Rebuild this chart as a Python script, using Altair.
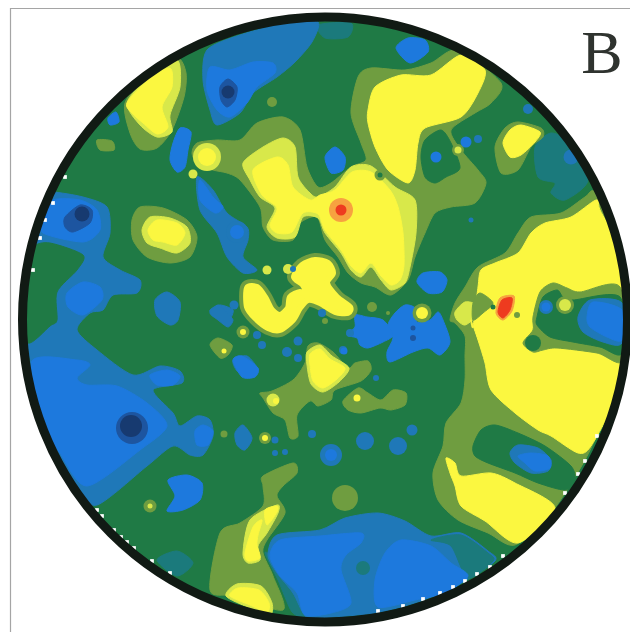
import altair as alt
import pandas as pd

alt.data_transformers.disable_max_rows()

COLORS = {
    "green": "#1f7a45", "olive": "#6f9d40", "pale": "#d8e84a", "yellow": "#fbf740",
    "blue": "#1d79dd", "steel": "#1f78b8", "teal": "#1b7a7c", "dark": "#1d55a0",
    "navy": "#173a70", "red": "#ee3b1f", "orange": "#f7a240",
}

# contour outlines, one list per contour level and painting pass
TEAL_BASE = [
    [(318,25),(351,23),(348,37),(325,38)],
    [(535,147),(551,133),(568,143),(588,180),(565,200),(551,193),(555,183),(538,177)],
    [(157,560),(177,551),(193,563),(177,576)],
    [(265,553),(275,560),(300,600),(305,616),(292,612),(278,580)],
]
STEEL_BASE = [
    [(207,50),(240,35),(290,22),(318,22),(312,42),(295,62),(277,77),(253,93),(240,113),(217,125),(210,110),(203,80)],
    [(53,192),(83,197),(107,207),(110,233),(103,257),(120,270),(140,280),(137,293),(113,295),(103,310),(90,313),(77,330),(97,350),(133,375),(160,366),(180,371),(182,383),(153,390),(173,413),(180,426),(197,416),(210,420),(213,436),(203,455),(190,455),(173,446),(147,466),(97,505),(77,486),(43,430),(28,346),(20,300),(30,220),(45,195)],
    [(197,177),(213,190),(227,213),(247,227),(248,240),(243,257),(257,270),(243,273),(227,257),(217,233),(200,210)],
    [(233,360),(247,356),(258,370),(248,376),(237,371)],
    [(235,433),(243,425),(252,438),(245,450),(237,445)],
    [(155,300),(167,292),(180,302),(178,320),(170,325),(157,316)],
    [(210,310),(220,305),(233,310),(230,320),(228,323),(213,316)],
    [(210,313),(218,305),(227,313),(233,320),(228,327),(218,320)],
    [(277,535),(320,530),(345,518),(378,513),(405,521),(431,536),(461,533),(488,551),(495,561),(461,583),(421,601),(375,613),(318,618),(305,616),(293,593),(277,573),(268,555)],
]
TEAL_SECOND = [
    [(431,540),(461,535),(488,553),(493,561),(468,578),(451,546)],
]
BLUE_BASE = [
    [(210,67),(230,70),(253,62),(273,63),(275,73),(257,87),(247,103),(230,117),(217,110),(207,90)],
    [(108,118),(116,112),(119,122),(110,125)],
    [(180,128),(191,132),(188,150),(185,167),(177,172),(170,160),(173,143)],
    [(53,200),(80,200),(97,210),(100,230),(83,242),(43,233),(42,217)],
    [(67,293),(83,282),(100,287),(102,300),(83,315),(68,307)],
    [(32,361),(77,360),(90,365),(77,378),(87,385),(117,386),(147,403),(167,426),(140,450),(87,486),(60,453),(43,423)],
    [(150,375),(167,370),(180,376),(173,385),(157,385)],
    [(195,431),(203,425),(213,431),(208,445),(197,445)],
    [(168,480),(187,475),(202,483),(200,500),(183,510),(167,511),(175,496)],
    [(200,180),(213,197),(223,207),(215,213),(200,200)],
    [(233,360),(242,356),(258,368),(255,377),(242,377)],
    [(417,282),(423,273),(440,272),(447,280),(442,292),(428,293)],
    [(395,313),(405,305),(415,308),(417,322),(430,320),(438,312),(443,320),(450,342),(440,355),(428,348),(413,352),(390,362),(387,352),(393,338),(388,325)],
    [(355,315),(367,317),(383,320),(393,335),(383,342),(368,348),(360,345),(357,338),(347,335),(355,327)],
    [(396,48),(408,38),(425,40),(428,52),(410,63)],
    [(325,157),(335,147),(345,157),(343,170),(331,173)],
    [(270,556),(280,540),(320,536),(361,533),(361,543),(346,555),(341,570),(351,603),(331,613),(305,615),(297,593),(280,576)],
    [(385,553),(401,540),(431,546),(451,563),(468,576),(445,593),(415,600),(378,607),(375,580)],
]
GREEN_WEDGE = [
    [(33,247),(50,243),(83,255),(77,270),(57,292),(57,320),(50,326),(28,343),(20,310),(24,270)],
]
OLIVE_BASE = [
    [(125,103),(148,74),(177,58),(186,73),(184,97),(172,130),(157,148),(140,149),(130,133)],
    [(97,140),(112,141),(114,150),(100,150)],
    [(197,143),(217,140),(240,140),(257,123),(283,117),(300,130),(307,167),(318,187),(331,183),(351,167),(366,160),(361,143),(351,113),(358,77),(371,68),(405,70),(431,63),(458,50),(501,83),(491,103),(475,113),(451,130),(461,150),(478,170),(486,183),(475,203),(451,207),(435,213),(425,233),(415,257),(408,280),(391,295),(375,287),(361,283),(348,273),(338,257),(325,240),(317,217),(300,223),(293,240),(273,240),(263,227),(260,207),(240,180),(227,173),(213,170),(197,163),(192,153)],
    [(132,220),(140,207),(163,208),(187,220),(197,237),(190,257),(170,263),(147,257),(133,240)],
    [(495,147),(505,128),(518,122),(541,128),(543,137),(531,147),(518,170),(501,173)],
    [(595,192),(585,197),(561,213),(531,217),(518,233),(505,253),(478,267),(465,287),(455,303),(450,320),(455,323),(465,336),(465,356),(465,380),(461,403),(446,423),(443,446),(433,473),(438,500),(458,520),(488,533),(515,545),(551,513),(585,460),(611,403),(626,356),(631,313),(628,280),(615,230)],
    [(260,393),(272,391),(293,380),(305,363),(308,346),(318,343),(333,352),(348,368),(355,363),(368,361),(371,370),(361,381),(335,390),(331,400),(318,406),(310,401),(297,415),(298,436),(290,438),(285,420),(273,413),(263,398)],
    [(343,401),(358,388),(368,393),(381,400),(393,390),(406,393),(405,405),(391,410),(380,408),(361,413),(348,410)],
    [(210,590),(220,533),(240,523),(263,506),(263,486),(263,476),(293,463),(297,473),(283,486),(277,496),(285,513),(267,540),(263,553),(273,576),(283,610),(233,596)],
    [(210,345),(218,338),(232,345),(228,355),(220,358)],
]
CENTRE_CLUSTER = [
    [(247,288),(257,287),(265,297),(272,310),(280,315),(288,308),(290,297),(300,292),(307,295),(303,285),(294,277),(302,265),(315,260),(328,263),(333,273),(327,283),(337,297),(350,307),(348,313),(335,312),(320,303),(308,300),(300,308),(293,320),(280,330),(268,328),(255,318),(247,307)],
]
GREEN_HOLES = [
    [(421,157),(425,140),(441,130),(451,143),(460,168),(446,177),(435,183),(425,177)],
]
PALE_BASE = [
    [(127,103),(148,78),(177,60),(180,87),(170,115),(172,132),(157,137),(140,125)],
    [(142,230),(150,217),(170,218),(187,227),(190,243),(177,253),(160,248),(147,243)],
    [(243,163),(263,147),(283,138),(295,147),(298,177),(310,193),(318,197),(335,187),(351,167),(371,166),(395,187),(415,200),(416,233),(410,267),(405,283),(391,290),(381,280),(371,267),(361,277),(351,270),(341,253),(325,233),(318,218),(303,217),(295,237),(277,238),(267,227),(275,208),(260,197),(250,180)],
    [(243,553),(250,520),(277,505),(278,513),(267,533),(258,546),(260,560),(248,563)],
    [(455,312),(465,302),(477,305),(475,317),(465,325),(457,320)],
    [(307,352),(320,345),(332,356),(349,368),(339,382),(323,392),(311,384),(307,365)],
    [(226,596),(237,584),(261,586),(272,603),(270,615),(250,608)],
]
YELLOW_BASE = [
    [(127,103),(148,80),(170,68),(172,87),(162,107),(168,127),(157,134),(143,123),(132,113)],
    [(148,230),(157,220),(177,223),(185,233),(177,245),(163,242),(153,240)],
    [(253,170),(277,157),(288,165),(293,187),(310,200),(320,195),(335,190),(352,172),(371,172),(390,190),(398,207),(403,233),(404,265),(400,280),(391,285),(381,276),(371,263),(361,273),(351,266),(341,250),(325,230),(318,214),(303,213),(292,232),(277,233),(270,225),(277,208),(262,195)],
    [(368,110),(375,87),(401,75),(431,75),(461,55),(485,70),(478,93),(461,117),(425,128),(418,143),(415,170),(408,183),(388,170),(375,147),(368,123)],
    [(503,143),(510,130),(521,125),(540,132),(535,142),(521,155),(510,157)],
    [(596,200),(571,217),(545,223),(531,233),(518,253),(495,263),(481,270),(478,287),(473,327),(471,320),(478,340),(485,363),(491,390),(515,413),(538,430),(551,436),(578,453),(591,446),(615,400),(623,356),(625,310),(625,280),(615,240),(600,210)],
    [(446,458),(455,463),(461,476),(491,473),(515,483),(555,508),(518,543),(485,521),(461,506),(455,486),(450,473)],
    [(310,354),(320,349),(330,359),(345,368),(337,379),(323,388),(313,381),(310,365)],
    [(245,553),(253,527),(262,520),(258,535),(257,545),(260,558),(248,561)],
    [(265,510),(277,506),(277,512),(267,525)],
    [(230,596),(238,588),(259,590),(269,603),(267,612),(250,605)],
]
OLIVE_SECOND = [
    [(533,317),(540,292),(553,283),(567,288),(580,292),(620,287),(623,360),(597,353),(557,348),(543,350),(533,352),(523,343),(533,330)],
    [(480,293),(493,303),(483,313),(473,320),(473,303)],
]
GREEN_SECOND = [
    [(537,317),(543,297),(557,290),(563,297),(573,300),(620,297),(622,353),(600,347),(573,342),(550,337),(537,325)],
    [(473,446),(481,430),(495,425),(518,433),(545,446),(571,466),(575,480),(565,490),(538,483),(515,473),(488,463),(475,456)],
]
STEEL_SECOND = [
    [(578,317),(590,300),(622,303),(622,343),(603,342),(583,332)],
    [(510,453),(518,445),(538,448),(551,460),(548,471),(531,473),(515,463)],
]
BLUE_SECOND = [
    [(587,317),(593,302),(622,310),(622,340),(607,337),(590,327)],
    [(518,456),(531,453),(548,456),(550,468),(535,471),(525,463)],
]
DARK_SPOTS = [
    [(220,87),(228,79),(237,87),(235,100),(227,107),(221,100)],
    [(65,217),(80,205),(92,210),(90,223),(73,232),(65,227)],
]
ORANGE_SPOTS = [
    [(496,313),(500,298),(514,296),(512,311),(503,320)],
]
RED_SPOTS = [
    [(498,312),(502,300),(512,298),(510,310),(503,318)],
]

PASSES = [
    ("teal", TEAL_BASE, 1), ("steel", STEEL_BASE, 1), ("teal", TEAL_SECOND, 1), ("blue", BLUE_BASE, 1),
    ("green", GREEN_WEDGE, 1), ("olive", OLIVE_BASE, 1), ("olive", CENTRE_CLUSTER, 14), ("green", GREEN_HOLES, 1),
    ("pale", PALE_BASE, 1), ("yellow", YELLOW_BASE, 1), ("yellow", CENTRE_CLUSTER, 6), ("olive", OLIVE_SECOND, 1),
    ("green", GREEN_SECOND, 1), ("steel", STEEL_SECOND, 1), ("blue", BLUE_SECOND, 1), ("dark", DARK_SPOTS, 1),
    ("orange", ORANGE_SPOTS, 1), ("red", RED_SPOTS, 1),
]

# small round spots: level, x, y, diameter
SPOTS = [
    ("navy",228,92,13),("navy",82,214,15),("dark",132,428,32),("navy",131,426,22),
    ("olive",272,102,10),("pale",207,157,28),("yellow",207,157,18),("pale",193,174,9),
    ("pale",267,270,9),("pale",288,269,10),("steel",293,269,6),("steel",237,232,22),("blue",237,232,14),
    ("olive",243,332,13),("yellow",243,332,6),("yellow",224,351,5),("olive",224,434,7),
    ("olive",265,438,12),("yellow",265,438,6),("steel",275,440,7),("steel",275,453,6),("steel",285,452,6),
    ("steel",257,335,8),("steel",262,345,8),("steel",287,352,10),("steel",298,341,9),("steel",298,358,8),
    ("steel",312,434,8),("steel",234,305,9),("steel",322,313,8),("olive",325,321,6),("steel",343,350,8),
    ("steel",350,333,8),("blue",344,351,7),("steel",376,378,6),("olive",372,307,10),("olive",388,313,4),
    ("olive",422,313,19),("yellow",422,313,12),("dark",413,338,6),("dark",413,328,5),
    ("olive",150,506,13),("pale",150,506,5),("olive",380,175,11),("green",380,175,5),
    ("blue",436,157,11),("olive",458,150,12),("pale",458,150,7),("steel",478,139,8),("blue",466,142,11),
    ("orange",341,210,24),("red",341,210,11),("steel",471,220,5),("steel",571,157,15),("steel",528,109,10),
    ("green",493,307,5),("olive",517,315,6),("green",533,343,16),("steel",546,307,14),("blue",546,307,9),
    ("olive",565,305,18),("pale",565,305,12),("yellow",357,398,7),("pale",273,400,13),("yellow",276,401,6),
    ("steel",412,430,11),("steel",365,441,18),("steel",398,446,18),("steel",331,455,22),("blue",331,455,12),
    ("olive",345,498,26),("teal",363,568,14),
]
WHITE_TICKS_X = [65,53,45,40,33,97,102,114,121,127,134,152,170,378,403,423,440,453,465,477,490,503,565,578,585,597]
WHITE_TICKS_Y = [177,203,220,238,270,510,516,530,537,542,548,561,573,611,606,599,593,587,581,574,567,556,493,474,461,436]

CENTRE = [(325, 319.5)]
FRAME_LEFT = [(10.5, 8, 632)]
FRAME_TOP = [(10.5, 630, 8.5)]
LABEL = [("B", 602, 73)]

rows = []
rid = 0
for level, polys, w in PASSES:
    for poly in polys:
        rid += 1
        for i, (x, y) in enumerate(poly):
            rows.append({"id": f"r{rid:03d}", "i": i, "x": x, "y": y, "c": COLORS[level], "w": w})
regions = pd.DataFrame(rows)
spots = pd.DataFrame([{"x": x, "y": y, "c": COLORS[l], "s": d * d} for l, x, y, d in SPOTS])
ticks = pd.DataFrame({"x": WHITE_TICKS_X, "y": WHITE_TICKS_Y})
centre = pd.DataFrame(CENTRE, columns=["x", "y"])

W, H = 622, 625
X = alt.X("x:Q", scale=alt.Scale(domain=[8, 8 + W]), axis=None)
Y = alt.Y("y:Q", scale=alt.Scale(domain=[8 + H, 8]), axis=None)

disc = alt.Chart(centre).mark_point(filled=True, size=612**2, color=COLORS["green"], opacity=1).encode(x=X, y=Y)
contours = alt.Chart(regions).mark_line(interpolate="cardinal-closed", tension=0.2).encode(
    x=X, y=Y,
    detail="id:N",
    order="i:Q",
    fill=alt.Fill("c:N", scale=None),
    stroke=alt.Stroke("c:N", scale=None),
    strokeWidth=alt.StrokeWidth("w:Q", scale=None),
)
dots = alt.Chart(spots).mark_point(filled=True, opacity=1).encode(
    x=X, y=Y, fill=alt.Fill("c:N", scale=None), size=alt.Size("s:Q", scale=None),
)
white_ring = alt.Chart(centre).mark_point(size=624**2, filled=False, color="white", strokeWidth=16, opacity=1).encode(x=X, y=Y)
tick_marks = alt.Chart(ticks).mark_point(shape="square", filled=True, color="white", size=14, opacity=1).encode(x=X, y=Y)
ring = alt.Chart(centre).mark_point(size=605**2, filled=False, color="#111a14", strokeWidth=9, opacity=1).encode(x=X, y=Y)
frame_l = alt.Chart(pd.DataFrame(FRAME_LEFT, columns=["x", "y", "y2"])).mark_rule(color="#a5a5a5", strokeWidth=1.2).encode(x=X, y=Y, y2="y2:Q")
frame_t = alt.Chart(pd.DataFrame(FRAME_TOP, columns=["x", "x2", "y"])).mark_rule(color="#a5a5a5", strokeWidth=1.2).encode(x=X, x2="x2:Q", y=Y)
label = alt.Chart(pd.DataFrame(LABEL, columns=["t", "x", "y"])).mark_text(
    font="Liberation Serif", fontSize=62, color="#2f332f", align="center", baseline="alphabetic"
).encode(x=X, y=Y, text="t:N")

chart = alt.layer(disc, contours, dots, white_ring, tick_marks, ring, frame_l, frame_t, label).properties(
    width=W, height=H, padding=0, autosize=alt.AutoSizeParams(type="none"),
    background="white",
).configure_view(stroke=None)

chart.save("out.html", embed_options={"renderer": "svg", "actions": False})
